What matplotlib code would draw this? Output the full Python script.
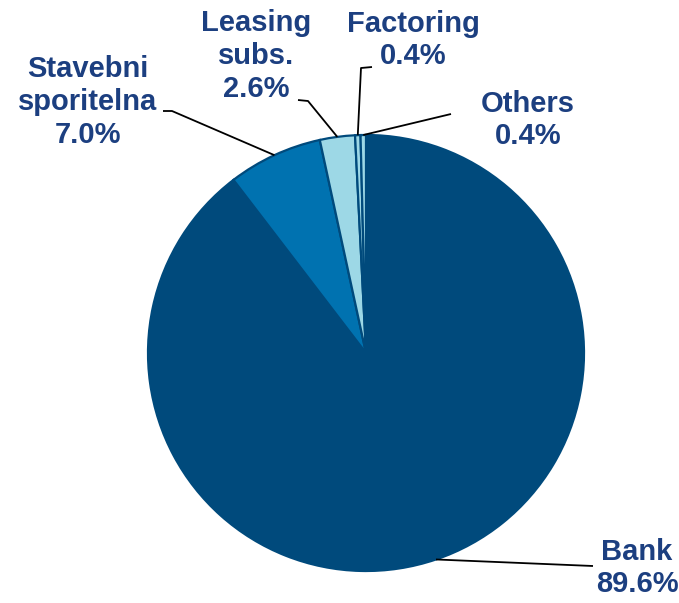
import matplotlib.pyplot as plt
import numpy as np

segments = ['Bank', 'Stavebni\nsporitelna', 'Leasing\nsubs.', 'Factoring', 'Others']
shares = [89.6, 7.0, 2.6, 0.4, 0.4]
colors = ['#004a7c', '#0072b0', '#9dd8e6', '#9dd8e6', '#9dd8e6']

W, H = 679, 603
cx, cy, r = 366, 603 - 353, 218
navy = '#1c3f80'

# label anchor (text centre, pixels from top) and elbow point of each leader line
label_xy = [(637, 568), (88, 102), (256, 56), (413, 40), (528, 120)]
elbow_xy = [(593, 566), (172, 111), (308, 101), (361, 68), (451, 114)]
tail_xy = [(593, 566), (163, 111), (298, 100), (372, 67), (451, 114)]


def flip(p):
    return p[0], H - p[1]


fig = plt.figure(figsize=(W / 100, H / 100), dpi=100)
ax = fig.add_axes([0, 0, 1, 1])
ax.pie(shares, colors=colors, startangle=90, counterclock=False,
       center=(cx, cy), radius=r,
       wedgeprops=dict(edgecolor='#004a7c', linewidth=1.6))
ax.set_xlim(0, W)
ax.set_ylim(0, H)
ax.set_aspect('equal')
ax.set_axis_off()

total = sum(shares)
start = 0.0
for name, v, lab, elb, tail in zip(segments, shares, label_xy, elbow_xy, tail_xy):
    mid = np.radians((start + v / 2) / total * 360)
    start += v
    px, py = cx + r * np.sin(mid), cy + r * np.cos(mid)
    ex, ey = flip(elb)
    tx, ty = flip(tail)
    ax.plot([px, ex, tx], [py, ey, ty], color='black', lw=1.3,
            solid_capstyle='butt')
    lx, ly = flip(lab)
    ax.text(lx, ly, f'{name}\n{v:.1f}%', ha='center', va='center',
            fontsize=21, fontweight='bold', color=navy,
            family='Liberation Sans', linespacing=1.22)

fig.savefig('out.png', dpi=100)
